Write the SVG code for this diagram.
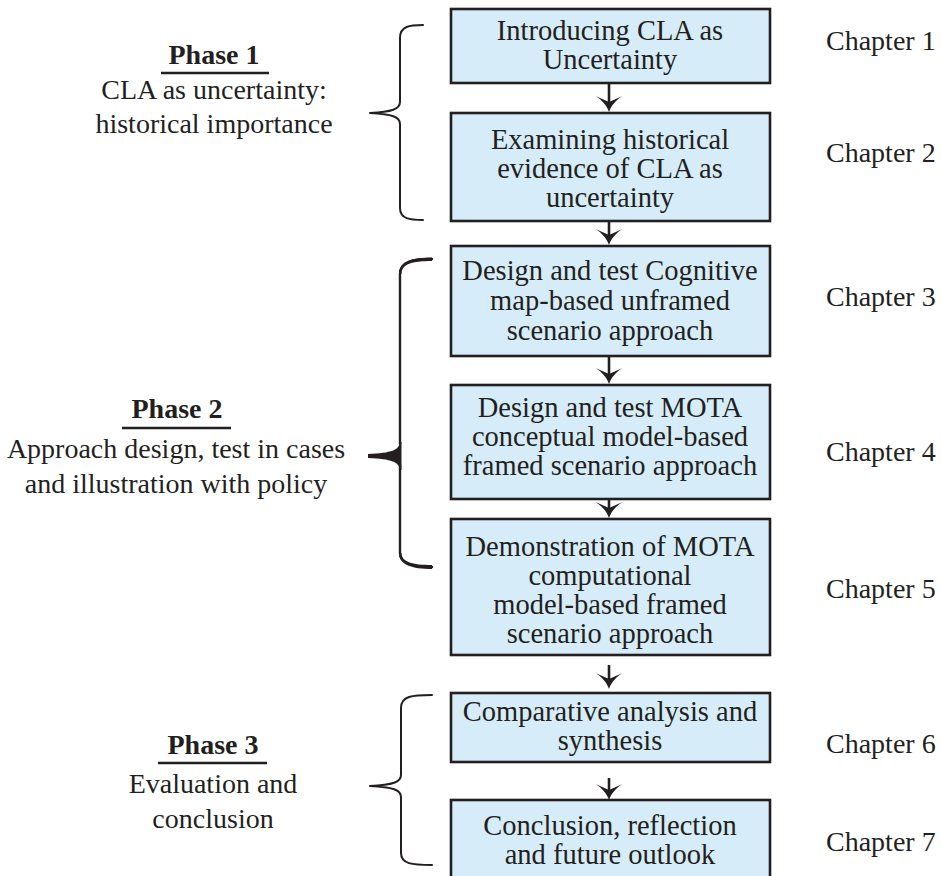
<svg xmlns="http://www.w3.org/2000/svg" width="942" height="876" viewBox="0 0 942 876">
<style>
  .box { fill: #d6edf9; stroke: #231f20; stroke-width: 2.6; }
  .t { font-family: "Liberation Serif", "Times New Roman", serif; font-size: 28px; fill: #231f20; }
  .bt { font-size: 28.5px; }
  .c { text-anchor: middle; }
  .b { font-weight: bold; }
  .conn { stroke: #231f20; stroke-width: 2.6; fill: none; }
  .brace { stroke: #231f20; stroke-width: 2; fill: none; stroke-linecap: round; stroke-linejoin: round; }
  .ul { stroke: #231f20; stroke-width: 2.6; }
</style>
<defs>
  <marker id="arr" markerUnits="userSpaceOnUse" markerWidth="30" markerHeight="30" viewBox="-20 -15 22 30" refX="-10" refY="0" orient="auto">
    <path d="M0,0 C-6,-2 -12,-7 -16,-13.5 L-10,0 L-16,13.5 C-12,7 -6,2 0,0 Z" fill="#231f20"/>
  </marker>
</defs>
<rect width="942" height="876" fill="#ffffff"/>

<g id="phase1">
  <text class="t c b" x="214" y="64">Phase 1</text>
  <line class="ul" x1="161" y1="73" x2="269" y2="73"/>
  <text class="t c" x="214" y="99">CLA as uncertainty:</text>
  <text class="t c" x="214" y="133">historical importance</text>
  <path class="brace" d="M423,25 C410,25 400,26 400,38 L400,102 C400,109 392,112 370,113 C392,114 400,117 400,124 L400,208 C400,219 410,220 423,220"/>
</g>

<g id="phase2">
  <text class="t c b" x="177" y="418">Phase 2</text>
  <line class="ul" x1="122" y1="428" x2="231" y2="428"/>
  <text class="t c" x="176" y="458">Approach design, test in cases</text>
  <text class="t c" x="176" y="493">and illustration with policy</text>
  <path class="brace" style="stroke-width:2.4" d="M432,259 C412,259 400,262 400,274 L400,444 M400,466 L400,553 C400,563 412,567 432,567"/>
  <path d="M400,442 C399,450 392,453 368,454 L368,458 C392,459 399,462 400,470 L401.5,470 L401.5,442 Z" fill="#231f20"/>
  <path d="M432,257.5 C412,257.5 399,261 399,274 L401.5,274 C401.5,264 412,261 432,261 Z" fill="#231f20"/>
  <path d="M432,565 C412,565 401.5,562 401.5,553 L399,553 C399,565 412,569 432,569 Z" fill="#231f20"/>
</g>

<g id="phase3">
  <text class="t c b" x="213" y="754">Phase 3</text>
  <line class="ul" x1="158" y1="763" x2="267" y2="763"/>
  <text class="t c" x="213" y="793">Evaluation and</text>
  <text class="t c" x="213" y="828">conclusion</text>
  <path class="brace" d="M432,695 C412,695 401,696 401,708 L401,775 C401,782 393,785 370,786 C393,787 401,790 401,797 L401,853 C401,864 412,865 432,865"/>
</g>

<g id="n1">
  <rect class="box" x="451" y="9" width="319" height="74"/>
  <text class="t bt c" x="610" y="40">Introducing CLA as</text>
  <text class="t bt c" x="610" y="69">Uncertainty</text>
</g>
<g id="n2">
  <rect class="box" x="451" y="113" width="319" height="108"/>
  <text class="t bt c" x="610" y="149">Examining historical</text>
  <text class="t bt c" x="610" y="178">evidence of CLA as</text>
  <text class="t bt c" x="610" y="207">uncertainty</text>
</g>
<g id="n3">
  <rect class="box" x="451" y="246" width="319" height="110"/>
  <text class="t bt c" x="610" y="280">Design and test Cognitive</text>
  <text class="t bt c" x="610" y="310">map-based unframed</text>
  <text class="t bt c" x="610" y="340">scenario approach</text>
</g>
<g id="n4">
  <rect class="box" x="451" y="385" width="319" height="114"/>
  <text class="t bt c" x="610" y="417">Design and test MOTA</text>
  <text class="t bt c" x="610" y="446">conceptual model-based</text>
  <text class="t bt c" x="610" y="475">framed scenario approach</text>
</g>
<g id="n5">
  <rect class="box" x="451" y="519" width="319" height="136"/>
  <text class="t bt c" x="610" y="556">Demonstration of MOTA</text>
  <text class="t bt c" x="610" y="585">computational</text>
  <text class="t bt c" x="610" y="614">model-based framed</text>
  <text class="t bt c" x="610" y="643">scenario approach</text>
</g>
<g id="n6">
  <rect class="box" x="451" y="693" width="319" height="69"/>
  <text class="t bt c" x="610" y="721">Comparative analysis and</text>
  <text class="t bt c" x="610" y="750">synthesis</text>
</g>
<g id="n7">
  <rect class="box" x="451" y="800" width="319" height="90"/>
  <text class="t bt c" x="610" y="835">Conclusion, reflection</text>
  <text class="t bt c" x="610" y="864">and future outlook</text>
</g>

<g id="chapters">
  <text class="t" x="826" y="50">Chapter 1</text>
  <text class="t" x="826" y="162">Chapter 2</text>
  <text class="t" x="826" y="306">Chapter 3</text>
  <text class="t" x="826" y="461">Chapter 4</text>
  <text class="t" x="826" y="598">Chapter 5</text>
  <text class="t" x="826" y="753">Chapter 6</text>
  <text class="t" x="826" y="851">Chapter 7</text>
</g>

<g id="connectors">
  <line class="conn" x1="609" y1="84" x2="609" y2="102" marker-end="url(#arr)"/>
  <line class="conn" x1="609" y1="222" x2="609" y2="235" marker-end="url(#arr)"/>
  <line class="conn" x1="609" y1="357" x2="609" y2="374" marker-end="url(#arr)"/>
  <line class="conn" x1="609" y1="500" x2="609" y2="508" marker-end="url(#arr)"/>
  <line class="conn" x1="609" y1="665" x2="609" y2="679" marker-end="url(#arr)"/>
  <line class="conn" x1="609" y1="778" x2="609" y2="790" marker-end="url(#arr)"/>
</g>
</svg>
